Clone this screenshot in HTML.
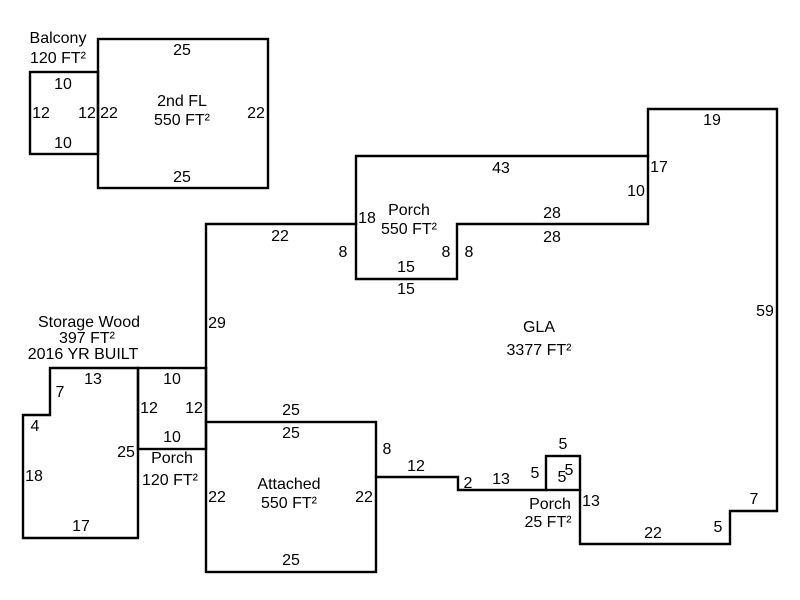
<!DOCTYPE html>
<html><head><meta charset="utf-8"><style>
html,body{margin:0;padding:0;background:#fff;}
svg{display:block;}
text{font-family:"Liberation Sans",Arial,sans-serif;font-size:16px;fill:#000;text-anchor:middle;}
</style></head><body>
<svg width="800" height="600" viewBox="0 0 800 600" xmlns="http://www.w3.org/2000/svg">
<g fill="none" stroke="#000" stroke-width="2.4" stroke-linejoin="miter" stroke-linecap="square">
<rect x="30" y="72" width="68" height="82"/>
<rect x="98" y="39" width="170" height="149"/>
<polyline points="206,368 206,224 356,224"/>
<polygon points="356,156 648,156 648,224 457,224 457,279 356,279"/>
<polyline points="648,156 648,109 777,109 777,511 730,511 730,544 580,544 580,490"/>
<rect x="546" y="456" width="34" height="34"/>
<polyline points="546,490 458,490 458,477 376,477"/>
<rect x="206" y="422" width="170" height="150"/>
<rect x="138" y="368" width="68" height="81"/>
<polygon points="50,368 138,368 138,538 23,538 23,415 50,415"/>
<line x1="206" y1="368" x2="206" y2="422"/>
</g>
<g>
<text x="58" y="43">Balcony</text>
<text x="58" y="63">120 FT²</text>
<text x="182" y="55">25</text>
<text x="63" y="89">10</text>
<text x="41" y="118">12</text>
<text x="87" y="118">12</text>
<text x="109" y="118">22</text>
<text x="182" y="106">2nd FL</text>
<text x="182" y="125">550 FT²</text>
<text x="256" y="118">22</text>
<text x="63" y="148">10</text>
<text x="182" y="182">25</text>

<text x="712" y="125">19</text>
<text x="501" y="173">43</text>
<text x="659" y="172">17</text>
<text x="636" y="196">10</text>
<text x="409" y="215">Porch</text>
<text x="409" y="234">550 FT²</text>
<text x="367" y="223">18</text>
<text x="552" y="218">28</text>
<text x="552" y="242">28</text>
<text x="280" y="241">22</text>
<text x="343" y="257">8</text>
<text x="446" y="257">8</text>
<text x="469" y="257">8</text>
<text x="406" y="272">15</text>
<text x="406" y="294">15</text>

<text x="765" y="316">59</text>
<text x="217" y="328">29</text>
<text x="539" y="332">GLA</text>
<text x="539" y="355">3377 FT²</text>

<text x="89" y="327">Storage Wood</text>
<text x="87" y="343">397 FT²</text>
<text x="83" y="359">2016 YR BUILT</text>
<text x="93" y="384">13</text>
<text x="60" y="397">7</text>
<text x="172" y="384">10</text>
<text x="149" y="413">12</text>
<text x="194" y="413">12</text>
<text x="291" y="415">25</text>
<text x="291" y="438">25</text>
<text x="35" y="431">4</text>
<text x="172" y="442">10</text>
<text x="126" y="457">25</text>
<text x="172" y="463">Porch</text>
<text x="170" y="485">120 FT²</text>
<text x="34" y="481">18</text>
<text x="289" y="489">Attached</text>
<text x="289" y="508">550 FT²</text>
<text x="217" y="502">22</text>
<text x="364" y="502">22</text>
<text x="81" y="531">17</text>
<text x="291" y="565">25</text>

<text x="387" y="454">8</text>
<text x="416" y="471">12</text>
<text x="468" y="488">2</text>
<text x="501" y="484">13</text>
<text x="535" y="478">5</text>
<text x="563" y="449">5</text>
<text x="562" y="482">5</text>
<text x="569" y="475">5</text>
<text x="591" y="506">13</text>
<text x="550" y="509">Porch</text>
<text x="548" y="527">25 FT²</text>
<text x="653" y="538">22</text>
<text x="718" y="532">5</text>
<text x="754" y="504">7</text>
</g>
</svg>
</body></html>
